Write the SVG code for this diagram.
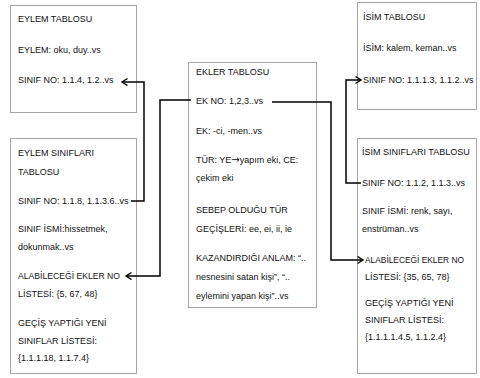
<svg xmlns="http://www.w3.org/2000/svg" width="480" height="378" viewBox="0 0 480 378">
<defs>
<style>
.box{fill:#ffffff;stroke:#a6a6a6;stroke-width:1}
.t{font-family:"Liberation Sans",Arial,sans-serif;font-size:9px;fill:#111111}
.c{fill:none;stroke:#000;stroke-width:1.5}
.ar{font-family:"DejaVu Sans",sans-serif;font-size:10px}
</style>
<marker id="arr" markerUnits="userSpaceOnUse" markerWidth="10" markerHeight="10" refX="6" refY="4" orient="auto">
<path d="M0.5,0.5 L6,4 L0.5,7.5" fill="none" stroke="#000" stroke-width="1.4"/>
</marker>
</defs>
<rect width="480" height="378" fill="#ffffff"/>

<g id="eylem-tablosu">
<rect class="box" x="10.5" y="5.5" width="126" height="107"/>
<text class="t" x="18" y="22">EYLEM TABLOSU</text>
<text class="t" x="18" y="53">EYLEM: oku, duy..vs</text>
<text class="t" x="18" y="83">SINIF NO: 1.1.4, 1.2..vs</text>
</g>

<g id="eylem-siniflari-tablosu">
<rect class="box" x="10.5" y="138.5" width="126" height="235"/>
<text class="t" x="18" y="156">EYLEM SINIFLARI</text>
<text class="t" x="18" y="175">TABLOSU</text>
<text class="t" x="18" y="204">SINIF NO: 1.1.8, 1.1.3.6..vs</text>
<text class="t" x="18" y="232">SINIF İSMİ:hissetmek,</text>
<text class="t" x="18" y="250">dokunmak..vs</text>
<text class="t" x="18" y="279" textLength="102" lengthAdjust="spacingAndGlyphs">ALABİLECEĞİ EKLER NO</text>
<text class="t" x="18" y="297">LİSTESİ: {5, 67, 48}</text>
<text class="t" x="18" y="326">GEÇİŞ YAPTIĞI YENİ</text>
<text class="t" x="18" y="344">SINIFLAR LİSTESİ:</text>
<text class="t" x="18" y="361">{1.1.1.18, 1.1.7.4}</text>
</g>

<g id="ekler-tablosu">
<rect class="box" x="188.5" y="62.5" width="128" height="245"/>
<text class="t" x="196" y="75">EKLER TABLOSU</text>
<text class="t" x="196" y="104">EK NO: 1,2,3..vs</text>
<text class="t" x="196" y="134">EK: -ci, -men..vs</text>
<text class="t" x="196" y="163">TÜR: YE<tspan class="ar">→</tspan>yapım eki, CE:</text>
<text class="t" x="196" y="181">çekim eki</text>
<text class="t" x="196" y="213">SEBEP OLDUĞU TÜR</text>
<text class="t" x="196" y="232">GEÇİŞLERİ: ee, ei, ii, ie</text>
<text class="t" x="196" y="261">KAZANDIRDIĞI ANLAM: “..</text>
<text class="t" x="196" y="280">nesnesini satan kişi”, “..</text>
<text class="t" x="196" y="299">eylemini yapan kişi”..vs</text>
</g>

<g id="isim-tablosu">
<rect class="box" x="357.5" y="2.5" width="119" height="107"/>
<text class="t" x="363" y="20">İSİM TABLOSU</text>
<text class="t" x="363" y="51">İSİM: kalem, keman..vs</text>
<text class="t" x="363" y="83">SINIF NO: 1.1.1.3, 1.1.2..vs</text>
</g>

<g id="isim-siniflari-tablosu">
<rect class="box" x="357.5" y="138.5" width="119" height="235"/>
<text class="t" x="362" y="155">İSİM SINIFLARI TABLOSU</text>
<text class="t" x="362" y="186">SINIF NO: 1.1.2, 1.1.3..vs</text>
<text class="t" x="362" y="214">SINIF İSMİ: renk, sayı,</text>
<text class="t" x="362" y="232">enstrüman..vs</text>
<text class="t" x="365" y="263" textLength="99" lengthAdjust="spacingAndGlyphs">ALABİLECEĞİ EKLER NO</text>
<text class="t" x="365" y="280">LİSTESİ: {35, 65, 78}</text>
<text class="t" x="365" y="306">GEÇİŞ YAPTIĞI YENİ</text>
<text class="t" x="365" y="323">SINIFLAR LİSTESİ:</text>
<text class="t" x="365" y="340">{1.1.1.1.4.5, 1.1.2.4}</text>
</g>

<g id="connectors">
<polyline class="c" points="131,201 144,201 144,82 122,82" marker-end="url(#arr)"/>
<polyline class="c" points="191,100 160,100 160,276 126,276" marker-end="url(#arr)"/>
<polyline class="c" points="272,102 331,102 331,260 363,260" marker-end="url(#arr)"/>
<polyline class="c" points="361,183 346,183 346,80 361,80" marker-end="url(#arr)"/>
</g>
</svg>
